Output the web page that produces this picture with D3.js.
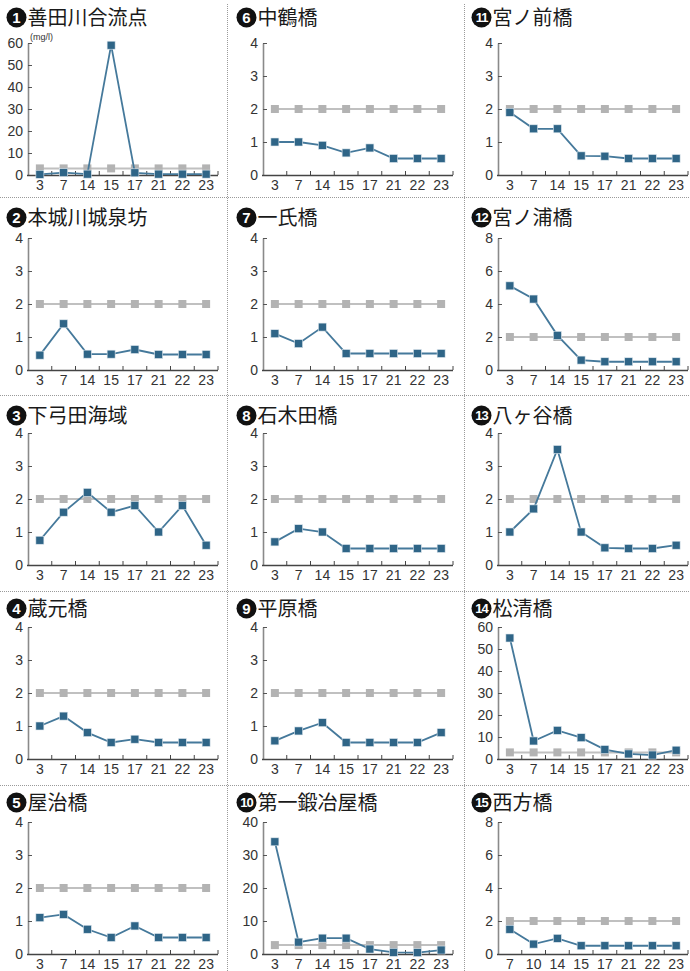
<!DOCTYPE html>
<html><head><meta charset="utf-8">
<script src="https://cdn.jsdelivr.net/npm/d3@7"></script>
<style>
html,body{margin:0;padding:0;background:#fff;}
svg{display:block;}
</style></head>
<body>
<svg id="chart" width="690" height="971"></svg>
<script>
// ---- data ----
const stationNumbers = ["1","2","3","4","5","6","7","8","9","10","11","12","13","14","15"];
const stationNames = ["善田川合流点","本城川城泉坊","下弓田海域","蔵元橋","屋治橋",
  "中鶴橋","一氏橋","石木田橋","平原橋","第一鍛冶屋橋",
  "宮ノ前橋","宮ノ浦橋","八ヶ谷橋","松清橋","西方橋"];
const daysA = ["3","7","14","15","17","21","22","23"];
const daysB = ["7","10","14","15","17","21","22","23"];
const stationDays = [daysA,daysA,daysA,daysA,daysA, daysA,daysA,daysA,daysA,daysA, daysA,daysA,daysA,daysA,daysB];
const measured = [
  [0.3, 1.1, 0.4, 59, 1.0, 0.4, 0.4, 0.4],
  [0.45, 1.4, 0.48, 0.48, 0.62, 0.47, 0.47, 0.47],
  [0.75, 1.6, 2.2, 1.6, 1.8, 1.0, 1.8, 0.6],
  [1.0, 1.3, 0.8, 0.5, 0.6, 0.5, 0.5, 0.5],
  [1.1, 1.2, 0.75, 0.5, 0.85, 0.5, 0.5, 0.5],
  [1.0, 1.0, 0.9, 0.67, 0.82, 0.5, 0.5, 0.5],
  [1.1, 0.8, 1.3, 0.5, 0.5, 0.5, 0.5, 0.5],
  [0.7, 1.1, 1.0, 0.5, 0.5, 0.5, 0.5, 0.5],
  [0.55, 0.85, 1.1, 0.5, 0.5, 0.5, 0.5, 0.8],
  [34, 3.6, 4.8, 4.8, 1.5, 0.5, 0.4, 1.2],
  [1.9, 1.4, 1.4, 0.58, 0.57, 0.5, 0.5, 0.5],
  [5.1, 4.3, 2.1, 0.6, 0.5, 0.5, 0.5, 0.5],
  [1.0, 1.7, 3.5, 1.0, 0.52, 0.5, 0.5, 0.6],
  [55, 8.2, 13, 9.7, 4.3, 2.3, 1.8, 4.0],
  [1.5, 0.6, 0.95, 0.5, 0.5, 0.5, 0.5, 0.5]
];
const standard = [3,2,2,2,2, 2,2,2,2,2.7, 2,2,2,3,2];
const yMax  = [60,4,4,4,4, 4,4,4,4,40, 4,8,4,60,8];
const yStep = [10,1,1,1,1, 1,1,1,1,10, 1,2,1,10,2];
const unitLabel = "(mg/l)";

// ---- layout ----
const colX = [0,235,470];
const titleX = [7,237,472];
const plotTop = [43,238,433,627,822];
const titleBase = [25,225,423,616,810];
const hSep = [197,395,591,785];
const vSep = [227,464];
const plotLeft = 28, plotW = 190, plotH = 132;

const BLUE_LINE = "#45799b", BLUE_MARK = "#2f6587";
const GRAY_LINE = "#c0c0c0", GRAY_MARK = "#b3b3b3";

const svg = d3.select("#chart");

// separators
hSep.forEach(y => svg.append("line").attr("x1",0).attr("x2",690).attr("y1",y+0.5).attr("y2",y+0.5)
  .attr("stroke","#9a9a9a").attr("stroke-width",1).attr("stroke-dasharray","1,1"));
vSep.forEach(x => svg.append("line").attr("x1",x+0.5).attr("x2",x+0.5).attr("y1",4).attr("y2",971)
  .attr("stroke","#9a9a9a").attr("stroke-width",1).attr("stroke-dasharray","1,1"));

stationNames.forEach((name,i) => {
  const col = Math.floor(i/5), row = i%5;
  const x0 = colX[col] + plotLeft, y0 = plotTop[row];
  const g = svg.append("g");

  // title
  const tx = titleX[col], tb = titleBase[row];
  g.append("circle").attr("cx",tx+9.5).attr("cy",tb-7.5).attr("r",10).attr("fill","#111");
  g.append("text").attr("x",tx+9.5).attr("y",tb-7.5).attr("dy","0.36em")
    .attr("text-anchor","middle").attr("fill","#fff")
    .attr("font-family","Liberation Sans, Arial, sans-serif").attr("font-weight","bold")
    .attr("font-size", stationNumbers[i].length>1 ? 13 : 15)
    .attr("letter-spacing", stationNumbers[i].length>1 ? -1 : 0)
    .text(stationNumbers[i]);
  g.append("text").attr("x",tx+20.5).attr("y",tb)
    .attr("font-family","Noto Sans CJK JP, sans-serif").attr("font-size",20).attr("fill","#1a1a1a")
    .text(name);

  const days = stationDays[i];
  const x = d3.scaleBand().domain(days).range([x0, x0+plotW]);
  const y = d3.scaleLinear().domain([0,yMax[i]]).range([y0+plotH, y0]);
  const ticks = d3.range(0, yMax[i]+yStep[i]/2, yStep[i]);

  // y axis
  const ya = g.append("g").attr("transform",`translate(${x0},0)`)
    .call(d3.axisLeft(y).tickValues(ticks).tickSizeInner(-4).tickSizeOuter(0).tickPadding(5).tickFormat(d3.format("d")));
  ya.select(".domain").attr("stroke","#8a8a8a").attr("stroke-width",1.6);
  ya.selectAll(".tick line").attr("stroke","#555").attr("stroke-width",1);
  ya.selectAll(".tick text").attr("font-family","Liberation Sans, Arial, sans-serif").attr("font-size",14).attr("fill","#333");

  // x axis
  const xa = g.append("g").attr("transform",`translate(0,${y0+plotH})`)
    .call(d3.axisBottom(x).tickSize(0).tickPadding(5));
  xa.select(".domain").remove();
  xa.selectAll(".tick text").attr("font-family","Liberation Sans, Arial, sans-serif").attr("font-size",14).attr("fill","#333");
  g.append("line").attr("x1",x0-1).attr("x2",x0+plotW).attr("y1",y0+plotH+0.5).attr("y2",y0+plotH+0.5)
    .attr("stroke","#444").attr("stroke-width",1.3);
  days.forEach(d => {
    const bx = x(d)+x.bandwidth();
    g.append("line").attr("x1",bx).attr("x2",bx).attr("y1",y0+plotH).attr("y2",y0+plotH-4)
      .attr("stroke","#444").attr("stroke-width",1);
  });

  if (i===0) {
    g.append("text").attr("x",x0+2).attr("y",y0-3).attr("font-family","Liberation Sans, Arial, sans-serif")
      .attr("font-size",9).attr("fill","#333").text(unitLabel);
  }

  const cx = d => x(d)+x.bandwidth()/2;
  // standard line
  const std = days.map(d => ({d, v: standard[i]}));
  g.append("path").datum(std).attr("fill","none").attr("stroke",GRAY_LINE).attr("stroke-width",2)
    .attr("d", d3.line().x(p=>cx(p.d)).y(p=>y(p.v)));
  g.selectAll(".sm").data(std).join("rect").attr("x",p=>cx(p.d)-4).attr("y",p=>y(p.v)-4)
    .attr("width",8).attr("height",8).attr("fill",GRAY_MARK);

  // measured line
  const ms = days.map((d,k) => ({d, v: measured[i][k]}));
  g.append("path").datum(ms).attr("fill","none").attr("stroke",BLUE_LINE).attr("stroke-width",1.8)
    .attr("d", d3.line().x(p=>cx(p.d)).y(p=>y(p.v)));
  g.selectAll(".mm").data(ms).join("rect").attr("x",p=>cx(p.d)-4).attr("y",p=>y(p.v)-4)
    .attr("width",8).attr("height",8).attr("fill",BLUE_MARK).attr("stroke","#dfe8ee").attr("stroke-width",0.6);
});
</script>
</body></html>
